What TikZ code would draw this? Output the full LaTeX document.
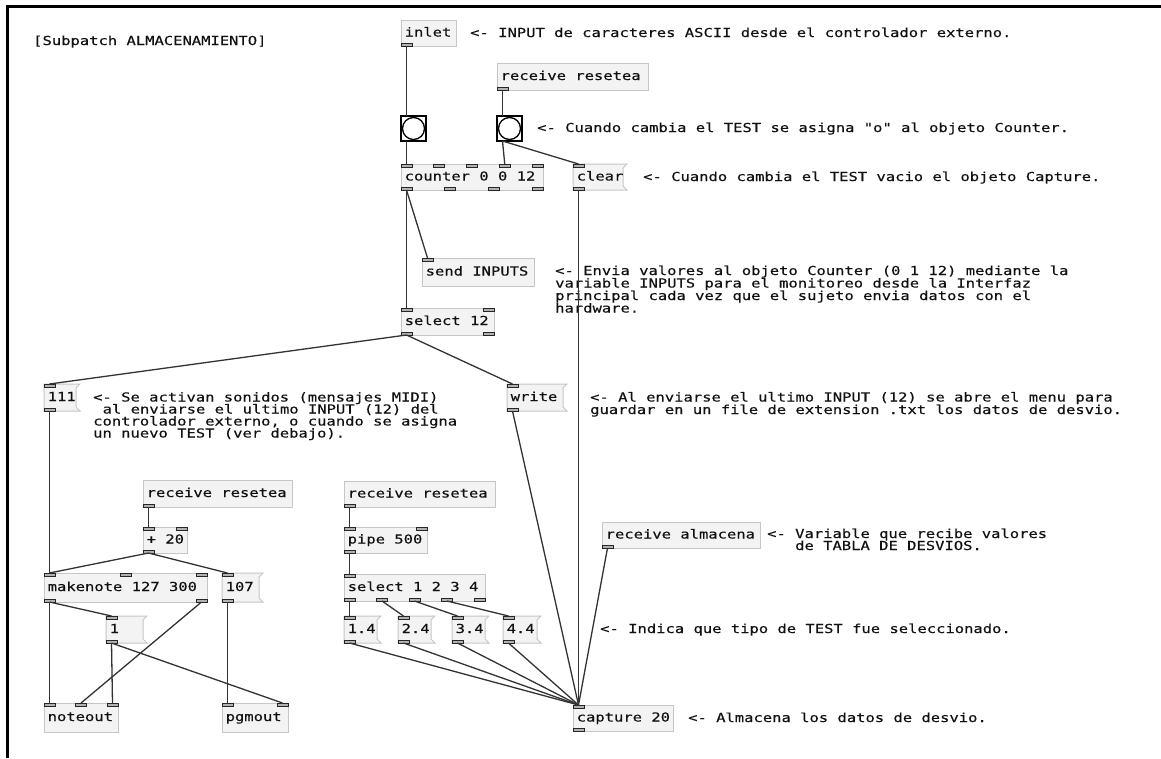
\documentclass[tikz,border=0pt]{standalone}
\usepackage{fontspec}
\newfontfamily\pdfont{DejaVu Sans Mono}[FakeStretch=1.25,FakeBold=0.3]
\definecolor{boxf}{HTML}{F3F3F3}
\definecolor{boxc}{HTML}{C6C6C6}
\definecolor{txt}{HTML}{111111}
\tikzset{
  pdtxt/.style={font=\pdfont\fontsize{12.4}{12.4}\selectfont, text=txt, inner sep=0pt},
  objbox/.style={draw=boxc, fill=boxf, line width=1pt, inner sep=0pt},
  msgbox/.style={draw=none, fill=none, inner sep=0pt},
  msgline/.style={draw=boxc, fill=boxf, line width=1pt},
  cmt/.style={pdtxt, anchor=base west},
  port/.style={draw=black!85, fill=black!30, line width=0.8pt},
  conn/.style={draw=black!80, line width=1.3pt},
  bangbox/.style={draw=black, line width=1.6pt, fill=white, minimum size=25pt, inner sep=0pt},
}
\newcommand\pdports[7]{%
  \ifnum#6>0
  \foreach \k in {1,...,#6}{%
    \ifnum#6=1 \def\px{#2}\else\pgfmathsetmacro\px{#2+(\k-1)*(#4-11)/(#6-1)}\fi
    \draw[port] (\px,#3) rectangle ++(11,3);
    \coordinate (#1-i\k) at (\px+5.5,#3);
  }\fi
  \ifnum#7>0
  \foreach \k in {1,...,#7}{%
    \ifnum#7=1 \def\px{#2}\else\pgfmathsetmacro\px{#2+(\k-1)*(#4-11)/(#7-1)}\fi
    \draw[port] (\px,#3+#5-3) rectangle ++(11,3);
    \coordinate (#1-o\k) at (\px+5.5,#3+#5);
  }\fi
}
\newcommand\pdobj[8]{%
  \node[objbox, minimum width=#4pt, minimum height=#5pt] (#1) at (#2+#4/2,#3+#5/2) {};
  \node[cmt] (#1-t) at (#2+3.5,#3+#5/2+3.5) {#8};
  \pdports{#1}{#2}{#3}{#4}{#5}{#6}{#7}%
}
\newcommand\pdmsg[8]{%
  \path[msgline] (#2,#3) -- ++(#4+4,0) -- ++(-4,4) -- ++(0,#5-8) -- ++(4,4) -- ++(-#4-4,0) -- cycle;
  \node[msgbox, minimum width=#4pt, minimum height=#5pt] (#1) at (#2+#4/2,#3+#5/2) {};
  \node[cmt] (#1-t) at (#2+3.5,#3+#5/2+3.5) {#8};
  \pdports{#1}{#2}{#3}{#4}{#5}{#6}{#7}%
}
\newcommand\pdbang[3]{%
  \node[bangbox] (#1) at (#2+12.5,#3+12.5) {};
  \draw[line width=1.3pt] (#1.center) circle (11pt);
  \coordinate (#1-i1) at (#2+5.5,#3);
  \coordinate (#1-o1) at (#2+5.5,#3+25);
}
\begin{document}
\begin{tikzpicture}[x=1pt,y=-1pt]
\useasboundingbox[fill=white] (0,0) rectangle (1161,758);
\draw[line width=2.7pt] (7.2,758) -- (7.2,6.3) -- (1161,6.3);

% objects
\pdobj{inl}{401}{20}{55}{26}{0}{1}{inlet}
\pdobj{rT}{497}{63}{151}{27}{0}{1}{receive resetea}
\pdbang{bA}{401}{116}
\pdbang{bB}{497}{116}
\pdobj{cnt}{401}{164}{142}{26}{5}{4}{counter 0 0 12}
\pdmsg{clr}{573}{164}{50}{26}{1}{1}{clear}
\pdobj{snd}{422}{258}{112}{28}{1}{0}{send INPUTS}
\pdobj{sdoce}{401}{308}{93}{27}{2}{2}{select 12}
\pdmsg{mcxi}{44}{384}{32}{27}{1}{1}{111}
\pdmsg{wr}{507}{384}{56}{27}{1}{1}{write}
\pdobj{rL}{143}{480}{149}{27}{0}{1}{receive resetea}
\pdobj{pl}{143}{527}{44}{26}{2}{1}{+ 20}
\pdobj{mk}{44}{573}{163}{29}{3}{2}{makenote 127 300}
\pdmsg{mcvii}{222}{573}{37}{29}{1}{1}{107}
\pdmsg{mone}{106}{616}{37}{27}{1}{1}{1}
\pdobj{nto}{44}{703}{74}{29}{3}{0}{noteout}
\pdobj{pg}{222}{703}{66}{29}{2}{0}{pgmout}
\pdobj{rM}{344}{481}{151}{26}{0}{1}{receive resetea}
\pdobj{pp}{344}{527}{83}{26}{2}{1}{pipe 500}
\pdobj{scuatro}{344}{574}{141}{27}{1}{5}{select 1 2 3 4}
\pdmsg{ma}{344}{616}{33}{27}{1}{1}{1.4}
\pdmsg{mb}{398}{616}{33}{27}{1}{1}{2.4}
\pdmsg{mc}{452}{616}{33}{27}{1}{1}{3.4}
\pdmsg{md}{503}{616}{34}{27}{1}{1}{4.4}
\pdobj{rA}{602}{522}{158}{26}{0}{1}{receive almacena}
\pdobj{cap}{573}{705}{100}{26}{1}{1}{capture 20}

% comments
\node[cmt] (c0) at (33,45) {[Subpatch ALMACENAMIENTO]};
\node[cmt] (c1) at (470,37) {<- INPUT de caracteres ASCII desde el controlador externo.};
\node[cmt] (c2) at (537,132) {<- Cuando cambia el TEST se asigna "o" al objeto Counter.};
\node[cmt] (c3) at (643,181) {<- Cuando cambia el TEST vacio el objeto Capture.};
\node[cmt] (c4a) at (555,275) {<- Envia valores al objeto Counter (0 1 12) mediante la};
\node[cmt] (c4b) at (555,287.5) {variable INPUTS para el monitoreo desde la Interfaz};
\node[cmt] (c4c) at (555,300) {principal cada vez que el sujeto envia datos con el};
\node[cmt] (c4d) at (555,312.5) {hardware.};
\node[cmt] (c5a) at (93,401.5) {<- Se activan sonidos (mensajes MIDI)};
\node[cmt] (c5b) at (102.5,413.5) {al enviarse el ultimo INPUT (12) del};
\node[cmt] (c5c) at (93,425.5) {controlador externo, o cuando se asigna};
\node[cmt] (c5d) at (93,437.5) {un nuevo TEST (ver debajo).};
\node[cmt] (c6a) at (590,401.5) {<- Al enviarse el ultimo INPUT (12) se abre el menu para};
\node[cmt] (c6b) at (590,414) {guardar en un file de extension .txt los datos de desvio.};
\node[cmt] (c7a) at (767,538) {<- Variable que recibe valores};
\node[cmt] (c7b) at (795,550) {de TABLA DE DESVIOS.};
\node[cmt] (c8) at (600,633) {<- Indica que tipo de TEST fue seleccionado.};
\node[cmt] (c9) at (688,722) {<- Almacena los datos de desvio.};

% connections
\draw[conn] (inl-o1) -- (bA-i1);
\draw[conn] (rT-o1) -- (bB-i1);
\draw[conn] (bA-o1) -- (cnt-i1);
\draw[conn] (bB-o1) -- (cnt-i4);
\draw[conn] (bB-o1) -- (clr-i1);
\draw[conn] (cnt-o1) -- (snd-i1);
\draw[conn] (cnt-o1) -- (sdoce-i1);
\draw[conn] (clr-o1) -- (cap-i1);
\draw[conn] (sdoce-o1) -- (mcxi-i1);
\draw[conn] (sdoce-o1) -- (wr-i1);
\draw[conn] (wr-o1) -- (cap-i1);
\draw[conn] (mcxi-o1) -- (mk-i1);
\draw[conn] (rL-o1) -- (pl-i1);
\draw[conn] (pl-o1) -- (mk-i1);
\draw[conn] (pl-o1) -- (mcvii-i1);
\draw[conn] (mk-o1) -- (nto-i1);
\draw[conn] (mk-o1) -- (mone-i1);
\draw[conn] (mk-o2) -- (nto-i2);
\draw[conn] (mone-o1) -- (nto-i3);
\draw[conn] (mone-o1) -- (pg-i2);
\draw[conn] (mcvii-o1) -- (pg-i1);
\draw[conn] (rM-o1) -- (pp-i1);
\draw[conn] (pp-o1) -- (scuatro-i1);
\draw[conn] (scuatro-o1) -- (ma-i1);
\draw[conn] (scuatro-o2) -- (mb-i1);
\draw[conn] (scuatro-o3) -- (mc-i1);
\draw[conn] (scuatro-o4) -- (md-i1);
\draw[conn] (ma-o1) -- (cap-i1);
\draw[conn] (mb-o1) -- (cap-i1);
\draw[conn] (mc-o1) -- (cap-i1);
\draw[conn] (md-o1) -- (cap-i1);
\draw[conn] (rA-o1) -- (cap-i1);
\end{tikzpicture}
\end{document}
